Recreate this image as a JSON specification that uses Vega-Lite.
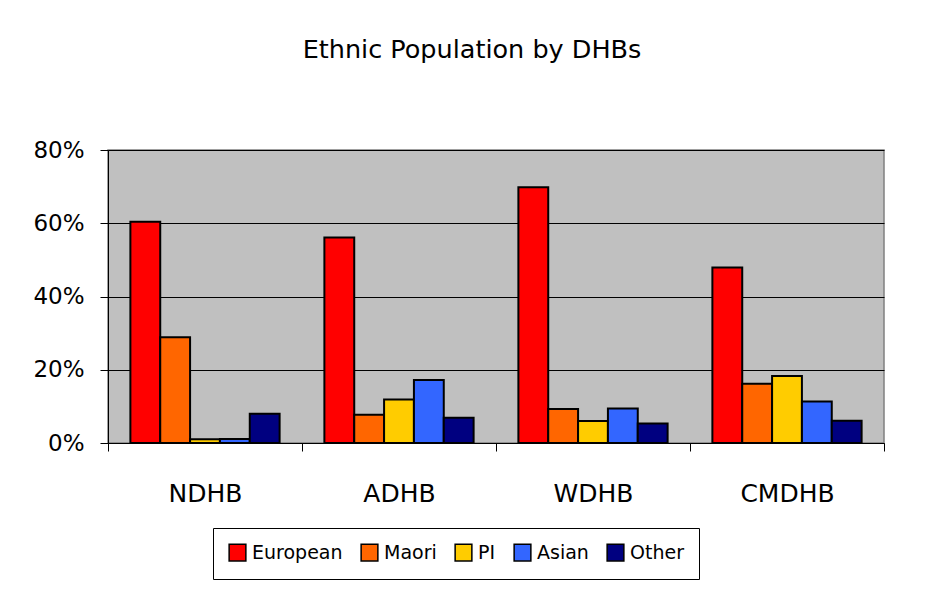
{
  "$schema": "https://vega.github.io/schema/vega-lite/v6.json",
  "autosize": {"type": "none"},
  "width": 776,
  "height": 293,
  "padding": {"left": 108, "top": 150, "right": 41, "bottom": 166},
  "background": "white",
  "title": {
    "text": "Ethnic Population by DHBs",
    "font": "DejaVu Sans",
    "fontSize": 25.5,
    "fontWeight": "normal",
    "color": "black",
    "anchor": "middle",
    "offset": 76,
    "dx": -24
  },
  "config": {
    "view": {"fill": "#C0C0C0", "stroke": "#808080", "strokeWidth": 1.5},
    "font": "DejaVu Sans"
  },
  "data": {
    "values": [
      {"dhb": "NDHB", "ethnicity": "European", "share": 0.604},
      {"dhb": "NDHB", "ethnicity": "Maori", "share": 0.289},
      {"dhb": "NDHB", "ethnicity": "PI", "share": 0.010},
      {"dhb": "NDHB", "ethnicity": "Asian", "share": 0.011},
      {"dhb": "NDHB", "ethnicity": "Other", "share": 0.080},
      {"dhb": "ADHB", "ethnicity": "European", "share": 0.561},
      {"dhb": "ADHB", "ethnicity": "Maori", "share": 0.077},
      {"dhb": "ADHB", "ethnicity": "PI", "share": 0.119},
      {"dhb": "ADHB", "ethnicity": "Asian", "share": 0.172},
      {"dhb": "ADHB", "ethnicity": "Other", "share": 0.069},
      {"dhb": "WDHB", "ethnicity": "European", "share": 0.698},
      {"dhb": "WDHB", "ethnicity": "Maori", "share": 0.093},
      {"dhb": "WDHB", "ethnicity": "PI", "share": 0.060},
      {"dhb": "WDHB", "ethnicity": "Asian", "share": 0.094},
      {"dhb": "WDHB", "ethnicity": "Other", "share": 0.053},
      {"dhb": "CMDHB", "ethnicity": "European", "share": 0.479},
      {"dhb": "CMDHB", "ethnicity": "Maori", "share": 0.162},
      {"dhb": "CMDHB", "ethnicity": "PI", "share": 0.183},
      {"dhb": "CMDHB", "ethnicity": "Asian", "share": 0.113},
      {"dhb": "CMDHB", "ethnicity": "Other", "share": 0.061}
    ]
  },
  "mark": {"type": "bar", "stroke": "black", "strokeWidth": 2},
  "encoding": {
    "x": {
      "field": "dhb",
      "type": "nominal",
      "sort": ["NDHB", "ADHB", "WDHB", "CMDHB"],
      "scale": {"paddingInner": 0, "paddingOuter": 0},
      "axis": {
        "title": null,
        "labelAngle": 0,
        "labelFont": "DejaVu Sans",
        "labelFontSize": 25,
        "labelColor": "black",
        "labelPadding": 30,
        "tickBand": "extent",
        "tickSize": 8,
        "tickColor": "black",
        "domainColor": "black",
        "domainWidth": 1,
        "grid": false
      }
    },
    "xOffset": {
      "field": "ethnicity",
      "type": "nominal",
      "sort": ["European", "Maori", "PI", "Asian", "Other"],
      "scale": {"paddingInner": 0, "paddingOuter": 0.75}
    },
    "y": {
      "field": "share",
      "type": "quantitative",
      "scale": {"domain": [0, 0.8]},
      "axis": {
        "title": null,
        "format": ".0%",
        "values": [0, 0.2, 0.4, 0.6, 0.8],
        "labelFont": "DejaVu Sans",
        "labelFontSize": 23,
        "labelColor": "black",
        "labelPadding": 16,
        "tickSize": 8,
        "tickColor": "black",
        "domainColor": "black",
        "grid": true,
        "gridColor": "black",
        "gridWidth": 1
      }
    },
    "color": {
      "field": "ethnicity",
      "type": "nominal",
      "sort": ["European", "Maori", "PI", "Asian", "Other"],
      "scale": {
        "domain": ["European", "Maori", "PI", "Asian", "Other"],
        "range": ["#FF0000", "#FF6600", "#FFCC00", "#3366FF", "#000080"]
      },
      "legend": {
        "title": null,
        "orient": "none",
        "direction": "horizontal",
        "legendX": 105,
        "legendY": 378,
        "strokeColor": "black",
        "fillColor": "white",
        "padding": 15,
        "symbolType": "square",
        "symbolSize": 280,
        "symbolStrokeColor": "black",
        "symbolStrokeWidth": 1.5,
        "symbolOpacity": 1,
        "labelFont": "DejaVu Sans",
        "labelFontSize": 19,
        "labelColor": "black",
        "labelOffset": 5,
        "columnPadding": 15
      }
    }
  }
}
